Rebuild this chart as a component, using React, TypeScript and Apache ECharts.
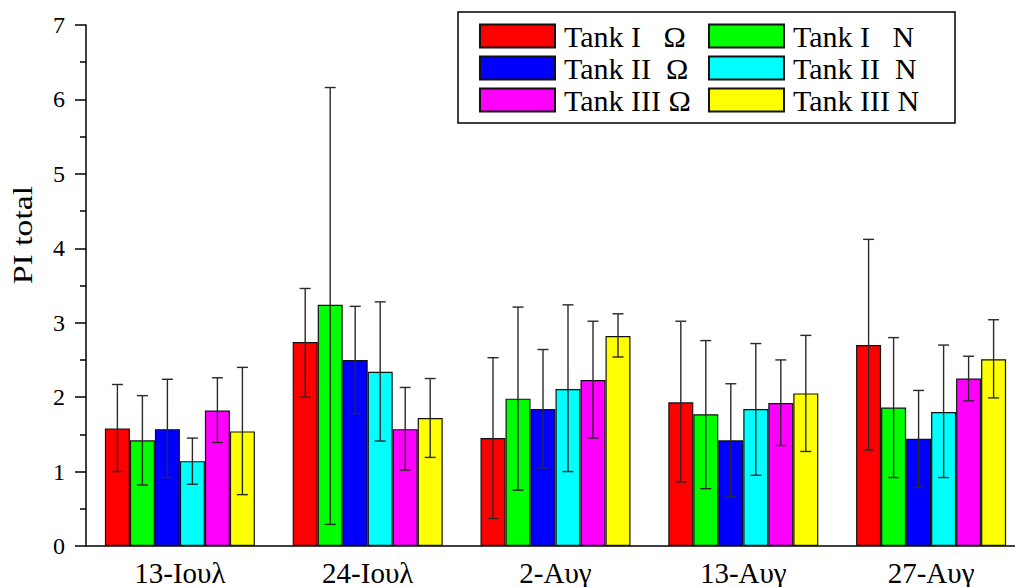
import React, { useEffect, useRef } from "react";
import * as echarts from "echarts";

const categories = ["13-Ιουλ", "24-Ιουλ", "2-Αυγ", "13-Αυγ", "27-Αυγ"];
const seriesNames = ["Tank I   Ω", "Tank I   N", "Tank II  Ω", "Tank II  N", "Tank III Ω", "Tank III N"];
const seriesColors = ["#ff0000", "#00ff00", "#0000ff", "#00ffff", "#ff00ff", "#ffff00"];
const legendLeftColumn = ["Tank I   Ω", "Tank II  Ω", "Tank III Ω"];
const legendRightColumn = ["Tank I   N", "Tank II  N", "Tank III N"];

const tank1O = [1.58, 2.74, 1.45, 1.93, 2.70];
const tank1N = [1.42, 3.24, 1.98, 1.77, 1.86];
const tank2O = [1.57, 2.50, 1.84, 1.42, 1.44];
const tank2N = [1.14, 2.34, 2.11, 1.84, 1.80];
const tank3O = [1.82, 1.57, 2.23, 1.92, 2.25];
const tank3N = [1.54, 1.72, 2.82, 2.05, 2.51];

const tank1OHigh = [2.17, 3.46, 2.53, 3.02, 4.12];
const tank1OLow = [1.00, 2.00, 0.37, 0.86, 1.29];
const tank1NHigh = [2.02, 6.16, 3.21, 2.76, 2.80];
const tank1NLow = [0.82, 0.29, 0.75, 0.77, 0.92];
const tank2OHigh = [2.24, 3.22, 2.64, 2.18, 2.09];
const tank2OLow = [0.92, 1.78, 1.05, 0.66, 0.79];
const tank2NHigh = [1.45, 3.28, 3.24, 2.72, 2.70];
const tank2NLow = [0.83, 1.41, 1.00, 0.95, 0.92];
const tank3OHigh = [2.26, 2.13, 3.02, 2.50, 2.55];
const tank3OLow = [1.39, 1.02, 1.45, 1.35, 1.95];
const tank3NHigh = [2.40, 2.25, 3.12, 2.83, 3.04];
const tank3NLow = [0.69, 1.19, 2.54, 1.27, 1.99];

const yTicks = [0, 1, 2, 3, 4, 5, 6, 7];

const values = [tank1O, tank1N, tank2O, tank2N, tank3O, tank3N];
const highs = [tank1OHigh, tank1NHigh, tank2OHigh, tank2NHigh, tank3OHigh, tank3NHigh];
const lows = [tank1OLow, tank1NLow, tank2OLow, tank2NLow, tank3OLow, tank3NLow];

const FONT = "'Liberation Serif', 'Times New Roman', serif";
const BAR_W = 25;

export default function App() {
  const ref = useRef<HTMLDivElement>(null);
  useEffect(() => {
    if (!ref.current) return;
    const chart = echarts.init(ref.current, undefined, { renderer: "svg" });
    const n = seriesNames.length;
    const barSeries = values.map((vals, i) => ({
      type: "bar",
      name: seriesNames[i],
      data: vals,
      barWidth: BAR_W,
      barGap: "0%",
      itemStyle: { color: seriesColors[i], borderColor: "#111", borderWidth: 1.2 },
      z: 2,
    }));
    const errSeries = values.map((_, i) => ({
      type: "custom",
      data: categories.map((_, k) => [k, lows[i][k], highs[i][k]]),
      encode: { x: 0, y: [1, 2] },
      z: 3,
      renderItem: (params: any, api: any) => {
        const k = api.value(0);
        const lo = api.coord([k, api.value(1)]);
        const hi = api.coord([k, api.value(2)]);
        const cx = lo[0] + (i - (n - 1) / 2) * BAR_W;
        const cap = 5.5;
        const st = { stroke: "#2a2a2a", lineWidth: 1.4 };
        return {
          type: "group",
          children: [
            { type: "line", shape: { x1: cx, y1: lo[1], x2: cx, y2: hi[1] }, style: st },
            { type: "line", shape: { x1: cx - cap, y1: lo[1], x2: cx + cap, y2: lo[1] }, style: st },
            { type: "line", shape: { x1: cx - cap, y1: hi[1], x2: cx + cap, y2: hi[1] }, style: st },
          ],
        };
      },
    }));
    const legendCommon = {
      orient: "vertical",
      top: 21,
      padding: 0,
      itemWidth: 75,
      itemHeight: 23,
      itemGap: 2,
      icon: "rect",
      textStyle: { fontFamily: FONT, fontSize: 30, color: "#000", padding: [0, 0, 0, 4] },
      z: 10,
    };
    chart.setOption({
      animation: false,
      backgroundColor: "#fff",
      grid: { left: 86, top: 25, bottom: 39, right: 0 },
      legend: [
        { ...legendCommon, data: legendLeftColumn, left: 479 },
        { ...legendCommon, data: legendRightColumn, left: 708 },
      ],
      graphic: [
        {
          type: "rect",
          z: 5,
          shape: { x: 458, y: 12, width: 497, height: 111 },
          style: { fill: "#fff", stroke: "#000", lineWidth: 1.5 },
        },
        {
          type: "text",
          x: 23,
          y: 235,
          rotation: Math.PI / 2,
          scaleX: 1.25,
          style: {
            text: "PI total",
            font: `27px ${FONT}`,
            fill: "#000",
            align: "center",
            verticalAlign: "middle",
          },
        },
      ],
      xAxis: [
        {
          type: "category",
          data: categories,
          axisLine: { lineStyle: { color: "#000", width: 1.5 } },
          axisTick: { alignWithLabel: true, length: 9, lineStyle: { color: "#000", width: 1.5 } },
          axisLabel: { fontFamily: FONT, fontSize: 29, color: "#000", margin: 12 },
        },
        {
          type: "category",
          data: categories,
          position: "bottom",
          axisLine: { show: false },
          axisTick: { alignWithLabel: false, length: 5, lineStyle: { color: "#000", width: 1.5 } },
          axisLabel: { show: false },
        },
      ],
      yAxis: {
        type: "value",
        min: yTicks[0],
        max: yTicks[yTicks.length - 1],
        interval: 1,
        axisLine: { show: true, lineStyle: { color: "#000", width: 1.5 } },
        axisTick: { show: true, length: 11, lineStyle: { color: "#000", width: 1.5 } },
        minorTick: { show: true, splitNumber: 2, length: 6, lineStyle: { color: "#000", width: 1.5 } },
        splitLine: { show: false },
        axisLabel: { fontFamily: FONT, fontSize: 24, color: "#000", margin: 21 },
      },
      series: [...barSeries, ...errSeries],
    });
    return () => chart.dispose();
  }, []);
  return (
    <div style={{ position: "absolute", left: 0, top: 0, width: 1015, height: 587, overflow: "hidden" }}>
      <div ref={ref} style={{ width: 1025, height: 587 }} />
    </div>
  );
}
